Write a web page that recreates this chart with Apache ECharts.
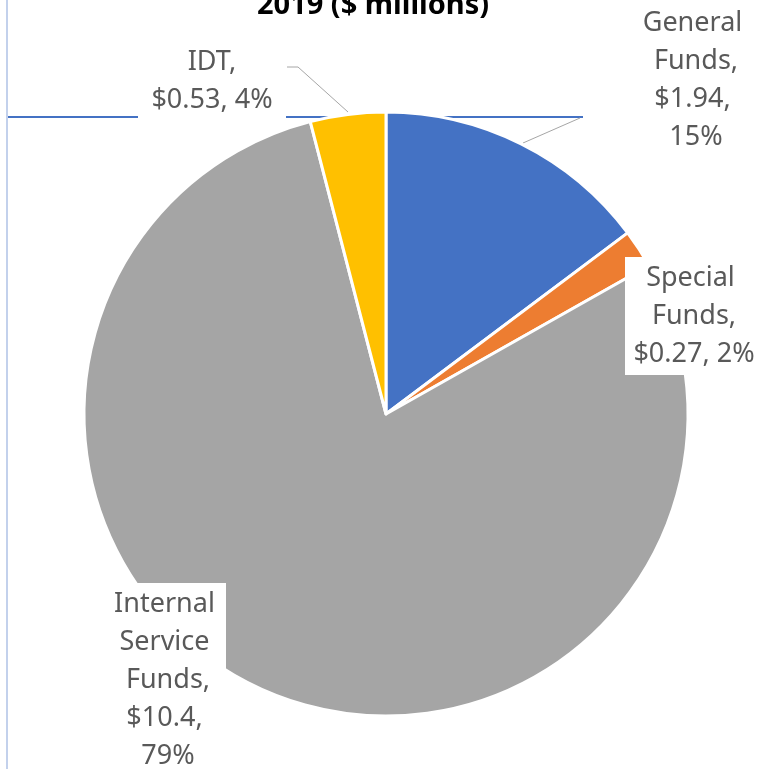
<!DOCTYPE html>
<html><head><meta charset="utf-8">
<script src="https://cdn.jsdelivr.net/npm/echarts@6/dist/echarts.min.js"></script>
<style>html,body{margin:0;padding:0;background:#fff}#c{width:761px;height:769px}</style>
</head><body><div id="c"></div>
<script>
const categories = ["General Funds", "Special Funds", "Internal Service Funds", "IDT"];
const values = [1.94, 0.27, 10.4, 0.53];
const colors = ["#4472C4", "#ED7D31", "#A5A5A5", "#FFC000"];
const titleText = "2019 ($ millions)";

const labelSpec = [
  {x: 696, y: 80, w: 120, line: [[523, 143], [580, 118]]},
  {x: 694, y: 316, w: 130, line: null},
  {x: 168, y: 680, w: 108, line: null},
  {x: 212, y: 81, w: 140, line: [[348, 112], [298, 67], [287, 67]]}
];

const chart = echarts.init(document.getElementById('c'));
chart.setOption({
  animation: false,
  backgroundColor: '#fff',
  graphic: [
    {type: 'line', z: 0, shape: {x1: 8, y1: 117, x2: 583, y2: 117}, style: {stroke: '#4472C4', lineWidth: 2}},
    {type: 'line', z: 0, shape: {x1: 7, y1: 0, x2: 7, y2: 769}, style: {stroke: '#c3d1ec', lineWidth: 2}},
    {type: 'text', z: 10, x: 373, y: 20, style: {text: titleText, font: 'bold 29px "Noto Sans"', fill: '#000', textAlign: 'center', textVerticalAlign: 'bottom'}}
  ],
  series: [{
    type: 'pie',
    z: 2,
    center: [386, 414],
    radius: 302,
    startAngle: 90,
    clockwise: true,
    percentPrecision: 0,
    itemStyle: {borderColor: '#fff', borderWidth: 3},
    label: {
      show: true,
      position: 'outside',
      formatter: p => `${p.name},\n$${p.value}, ${p.percent}%`,
      fontFamily: 'Noto Sans',
      fontSize: 27,
      lineHeight: 38,
      color: '#595959',
      backgroundColor: '#fff',
      overflow: 'break',
      align: 'center',
      padding: [2, 4]
    },
    labelLine: {show: true, lineStyle: {color: '#a6a6a6', width: 1}, length: 10, length2: 10},
    labelLayout: p => {
      const s = labelSpec[p.dataIndex];
      const o = {x: s.x, y: s.y, align: 'center', verticalAlign: 'middle'};
      if (s.line) o.labelLinePoints = s.line;
      return o;
    },
    data: categories.map((n, i) => ({
      name: n, value: values[i],
      itemStyle: {color: colors[i]},
      label: {width: labelSpec[i].w},
      labelLine: {show: !!labelSpec[i].line}
    }))
  }]
});
</script></body></html>
